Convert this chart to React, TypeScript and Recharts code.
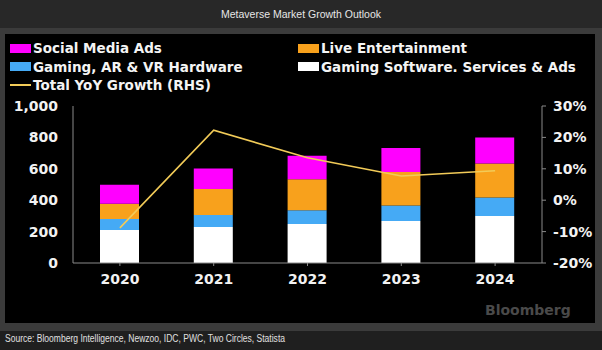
import { Bar, ComposedChart, Legend, Line, XAxis, YAxis } from "recharts";

const YEARS = ["2020", "2021", "2022", "2023", "2024"];
const GAMING_SOFTWARE = [210, 230, 249, 268, 300];
const GAMING_HARDWARE = [71, 76, 87, 98, 117];
const LIVE_ENTERTAINMENT = [96, 166, 198, 213, 217];
const SOCIAL_MEDIA_ADS = [121, 130, 149, 153, 166];
const YOY_GROWTH = [-8.8, 22.3, 13.5, 7.7, 9.4];
const LEFT_TICKS = [0, 200, 400, 600, 800, 1000];
const RIGHT_TICKS = [-20, -10, 0, 10, 20, 30];

const TITLE = "Metaverse Market Growth Outlook";
const SOURCE =
  "Source: Bloomberg Intelligence, Newzoo, IDC, PWC, Two Circles, Statista";

const COLORS = {
  software: "#ffffff",
  hardware: "#45aaf5",
  live: "#f8a11c",
  social: "#ff00ff",
  growth: "#f2cb58",
  axis: "#8a8a8a",
  tick: "#f2f2f2",
};

// legend laid out in two columns like the terminal screenshot
const LEGEND = [
  { label: "Social Media Ads", color: COLORS.social, col: 0, row: 0, line: false },
  { label: "Live Entertainment", color: COLORS.live, col: 1, row: 0, line: false },
  { label: "Gaming, AR & VR Hardware", color: COLORS.hardware, col: 0, row: 1, line: false },
  { label: "Gaming Software. Services & Ads", color: COLORS.software, col: 1, row: 1, line: false },
  { label: "Total YoY Growth (RHS)", color: COLORS.growth, col: 0, row: 2, line: true },
];

const data = YEARS.map((year, i) => ({
  year,
  software: GAMING_SOFTWARE[i],
  hardware: GAMING_HARDWARE[i],
  live: LIVE_ENTERTAINMENT[i],
  social: SOCIAL_MEDIA_ADS[i],
  growth: YOY_GROWTH[i],
}));

const FONT = "'DejaVu Sans', Verdana, sans-serif";
const tickStyle = { fill: COLORS.tick, fontFamily: FONT, fontWeight: 700, fontSize: 14 };

function ChartLegend() {
  return (
    <div style={{ position: "relative", width: 590, height: 62 }}>
      {LEGEND.map((item) => (
        <div
          key={item.label}
          style={{
            position: "absolute",
            left: item.col === 0 ? 5 : 293,
            top: item.row * 18.5 + 5,
            height: 18,
            display: "flex",
            alignItems: "center",
            whiteSpace: "nowrap",
            fontFamily: FONT,
            fontWeight: 700,
            fontSize: 13.5,
            color: "#f4f4f4",
          }}
        >
          <span
            style={{
              display: "inline-block",
              width: 21,
              height: item.line ? 2 : 9,
              background: item.color,
              marginRight: 2,
            }}
          />
          {item.label}
        </div>
      ))}
    </div>
  );
}

export default function App() {
  return (
    <div
      style={{
        position: "absolute",
        left: 0,
        top: 0,
        width: 602,
        height: 350,
        background: "#1f1f1f",
        overflow: "hidden",
      }}
    >
      <div style={{ position: "absolute", left: 0, top: 0, width: 602, height: 28, background: "#282828" }}>
        <svg width={602} height={28}>
          <text
            x={301}
            y={18}
            textAnchor="middle"
            fill="#e6e6e6"
            fontFamily="'Liberation Sans', Arial, sans-serif"
            fontSize={11.5}
            textLength={160}
            lengthAdjust="spacingAndGlyphs"
          >
            {TITLE}
          </text>
        </svg>
      </div>
      <div style={{ position: "absolute", left: 0, top: 28, width: 602, height: 303, background: "#3b3b3b" }} />
      <div style={{ position: "absolute", left: 5, top: 34, width: 590, height: 289, background: "#000" }}>
        <div
          style={{
            position: "absolute",
            left: 480,
            top: 268,
            fontFamily: FONT,
            fontWeight: 700,
            fontSize: 14,
            color: "#4a4a4a",
          }}
        >
          Bloomberg
        </div>
        <ComposedChart
          width={590}
          height={289}
          data={data}
          margin={{ top: 72, right: 0, bottom: 30, left: 0 }}
          barSize={39}
        >
          <Legend
            layout="horizontal"
            verticalAlign="middle"
            align="center"
            wrapperStyle={{ top: 0, left: 0, width: 590, height: 62 }}
            content={() => <ChartLegend />}
          />
          <XAxis
            dataKey="year"
            height={30}
            tick={tickStyle}
            tickSize={3}
            tickMargin={8}
            axisLine={{ stroke: COLORS.axis }}
            tickLine={{ stroke: COLORS.axis }}
          />
          <YAxis
            yAxisId="left"
            width={68}
            domain={[0, 1000]}
            ticks={LEFT_TICKS}
            tickFormatter={(v: number) => v.toLocaleString("en-US")}
            tick={tickStyle}
            tickSize={0}
            tickMargin={15}
            tickLine={false}
            axisLine={{ stroke: COLORS.axis }}
          />
          <YAxis
            yAxisId="right"
            orientation="right"
            width={53}
            domain={[-20, 30]}
            ticks={RIGHT_TICKS}
            tickFormatter={(v: number) => `${v}%`}
            tick={tickStyle}
            tickSize={4}
            tickMargin={7}
            tickLine={{ stroke: COLORS.axis }}
            axisLine={{ stroke: COLORS.axis }}
          />
          <Bar yAxisId="left" dataKey="software" stackId="a" fill={COLORS.software} isAnimationActive={false} />
          <Bar yAxisId="left" dataKey="hardware" stackId="a" fill={COLORS.hardware} isAnimationActive={false} />
          <Bar yAxisId="left" dataKey="live" stackId="a" fill={COLORS.live} isAnimationActive={false} />
          <Bar yAxisId="left" dataKey="social" stackId="a" fill={COLORS.social} isAnimationActive={false} />
          <Line
            yAxisId="right"
            dataKey="growth"
            type="linear"
            stroke={COLORS.growth}
            strokeWidth={1.6}
            dot={false}
            isAnimationActive={false}
          />
        </ComposedChart>
      </div>
      <svg style={{ position: "absolute", left: 0, top: 331 }} width={602} height={19}>
        <text
          x={5}
          y={11}
          fill="#e0e0e0"
          fontFamily="'Liberation Sans', Arial, sans-serif"
          fontSize={10}
          textLength={280}
          lengthAdjust="spacingAndGlyphs"
        >
          {SOURCE}
        </text>
      </svg>
    </div>
  );
}
